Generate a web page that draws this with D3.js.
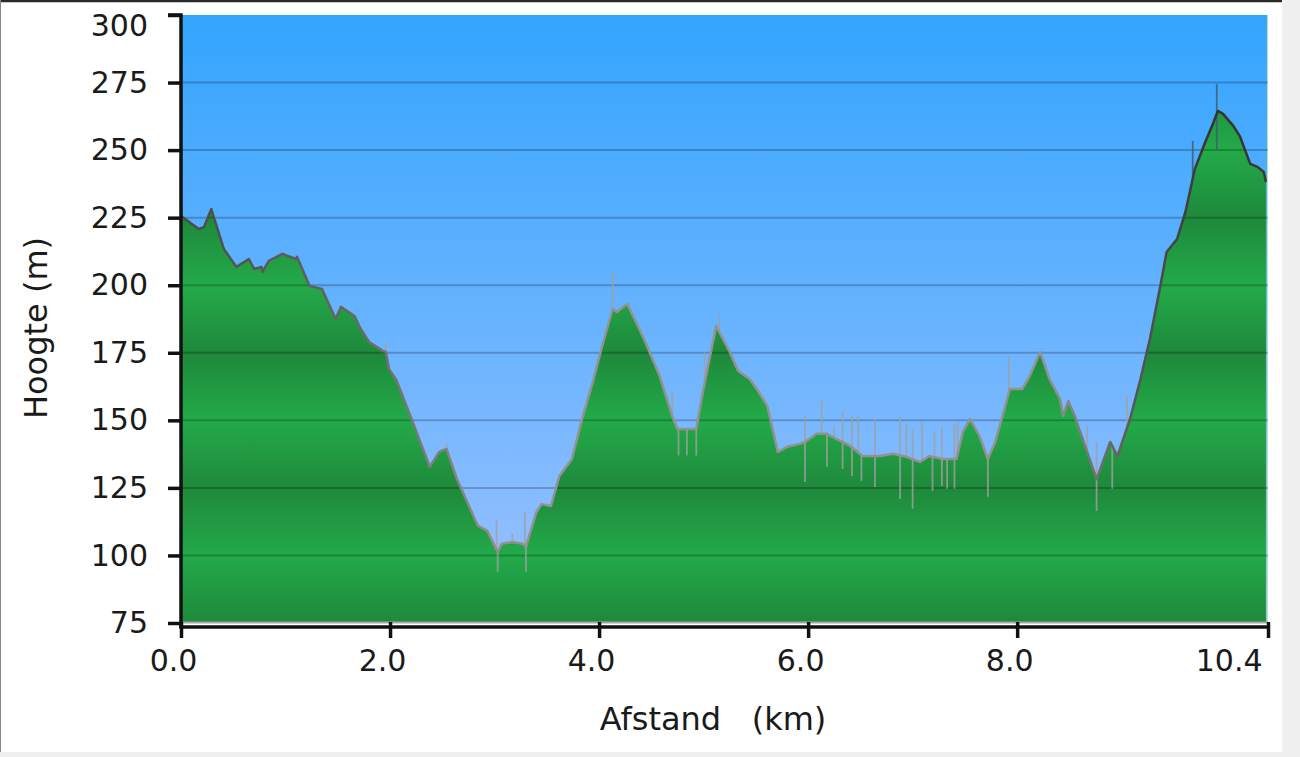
<!DOCTYPE html>
<html>
<head>
<meta charset="utf-8">
<script src="https://cdn.jsdelivr.net/npm/d3@7"></script>
<style>
  html, body { margin: 0; padding: 0; background: #f0f0f0; }
  svg { display: block; }
</style>
</head>
<body>
<svg id="chart" width="1300" height="757"></svg>
<script>
// ---- Data ----
const distKm = [0.00,0.01,0.17,0.22,0.29,0.41,0.53,0.65,0.70,0.77,0.78,0.84,0.97,1.10,1.11,1.23,1.35,1.37,1.48,1.53,1.66,1.72,1.80,1.93,1.96,1.99,2.06,2.18,2.38,2.47,2.54,2.64,2.84,2.93,3.03,3.07,3.17,3.27,3.30,3.40,3.45,3.54,3.62,3.74,3.83,3.94,4.03,4.13,4.17,4.27,4.43,4.58,4.70,4.75,4.89,4.93,4.98,5.12,5.25,5.33,5.44,5.51,5.61,5.71,5.80,5.92,5.97,6.08,6.18,6.27,6.40,6.52,6.69,6.81,6.94,7.07,7.16,7.29,7.42,7.48,7.55,7.64,7.72,7.79,7.86,7.93,8.05,8.12,8.22,8.31,8.41,8.44,8.49,8.55,8.67,8.76,8.89,8.96,9.08,9.18,9.27,9.37,9.43,9.53,9.61,9.70,9.80,9.88,9.92,9.97,10.07,10.13,10.23,10.30,10.36,10.38];
const elevM  = [226,225.3,220.8,221.5,228.2,213.4,206.8,209.7,206,206.8,204.9,209,211.6,209.7,210.5,199.7,198.6,196.8,187.5,192,188.6,183.8,179,175.7,175.3,169,165,153.1,132.8,138.3,139.4,128.3,111,109.1,101.3,104.3,105,104.3,103.2,116,119,118.3,129.4,135.7,149.4,164.2,177.5,191.2,190.1,193.1,180.1,166.4,151.6,146.8,146.8,146.8,157.9,184.9,175.3,168.3,165.3,161.6,155.3,138.3,140.2,141.3,142,145,145,143.1,140.6,136.8,136.8,137.6,136.5,134.6,136.8,135.7,135.7,145.7,150.5,144.2,135.7,142,151.6,161.6,161.6,166.4,175.3,165.3,157.9,151.6,157.2,151.6,138.3,128.3,142,136.8,150.5,165.3,180.1,199.7,212.3,217.1,227.1,243,253,260.4,264.5,263.4,258.9,255.2,244.9,243.8,241.9,238.2];

// measurement noise spikes (distance, spike tip elevation)
const spikeKm = [0.00,1.96,2.54,3.03,3.02,3.17,3.30,3.29,4.13,4.70,4.76,4.84,4.93,5.01,5.15,5.97,5.97,6.13,6.18,6.25,6.33,6.33,6.42,6.42,6.48,6.51,6.64,6.64,6.88,6.88,6.94,7.00,7.00,7.09,7.19,7.21,7.28,7.28,7.33,7.40,7.40,7.43,7.72,7.92,8.67,8.76,8.76,8.91,9.05,9.68,9.91,9.91];
const spikeM  = [233,179,141,94,113,108,94,116,205,161,137,137,137,175,189,151.6,127.2,157.2,132.8,148,153.5,132,151.6,129.4,151.6,127.6,150.5,125.3,151.2,120.9,148.7,117.3,146.8,149.4,123.9,145.7,147.6,125.7,124.7,148.7,124.7,149.4,121.7,173.9,148,116.5,142,124.7,159,253.4,274.5,250.4];

const yTicks = [75,100,125,150,175,200,225,250,275,300];
const gridValues = [100,125,150,175,200,225,250,275];
const xTicks = [0,2,4,6,8,10.4];
const xTickLabels = ["0.0","2.0","4.0","6.0","8.0","10.4"];
const xTitle = "Afstand\u00a0\u00a0\u00a0(km)";
const yTitle = "Hoogte (m)";

(function draw() {
const svg = d3.select("#chart");
const pL = 181, pR = 1268, pT = 15, pB = 623;
const x = d3.scaleLinear().domain([0, 10.4]).range([pL, pR]);
const y = d3.scaleLinear().domain([75, 300]).range([pB, pT]);
const font = "'DejaVu Sans', Verdana, sans-serif";

// frame
svg.append("rect").attr("x", 0).attr("y", 0).attr("width", 1282).attr("height", 752).attr("fill", "#ffffff");
svg.append("line").attr("x1", 0).attr("x2", 1282).attr("y1", 1).attr("y2", 1).attr("stroke", "#2a2a2a").attr("stroke-width", 2.5);
svg.append("line").attr("x1", 0.5).attr("x2", 0.5).attr("y1", 0).attr("y2", 752).attr("stroke", "#888").attr("stroke-width", 1);

const defs = svg.append("defs");
const sky = defs.append("linearGradient").attr("id", "sky")
  .attr("gradientUnits", "userSpaceOnUse").attr("x1", 0).attr("x2", 0).attr("y1", y(300)).attr("y2", y(75));
sky.append("stop").attr("offset", 0).attr("stop-color", "#33a5fe");
sky.append("stop").attr("offset", 1).attr("stop-color", "#9cc1ff");

const grass = defs.append("linearGradient").attr("id", "grass")
  .attr("gradientUnits", "userSpaceOnUse").attr("spreadMethod", "reflect")
  .attr("x1", 0).attr("x2", 0).attr("y1", y(125)).attr("y2", y(100));
grass.append("stop").attr("offset", 0).attr("stop-color", "#1e893b");
grass.append("stop").attr("offset", 1).attr("stop-color", "#23aa49");

const lineGrad = defs.append("linearGradient").attr("id", "lineGrad")
  .attr("gradientUnits", "userSpaceOnUse").attr("x1", pL).attr("x2", pR).attr("y1", 0).attr("y2", 0);
[[0, "#4a4a4a"], [0.15, "#666"], [0.3, "#929292"], [0.8, "#929292"], [0.88, "#555"], [0.95, "#333"], [1, "#3a3a3a"]]
  .forEach(([o, c]) => lineGrad.append("stop").attr("offset", o).attr("stop-color", c));

// sky
svg.append("rect").attr("x", pL).attr("y", pT).attr("width", pR - pL).attr("height", pB - pT).attr("fill", "url(#sky)");
svg.append("line").attr("x1", pR - 0.5).attr("x2", pR - 0.5).attr("y1", pT).attr("y2", pB)
  .attr("stroke", "#b6eab0").attr("stroke-width", 1);

const profile = distKm.map((d, i) => [d, elevM[i]]);
const area = d3.area().x(d => x(d[0])).y0(y(75)).y1(d => y(d[1]));
const line = d3.line().x(d => x(d[0])).y(d => y(d[1]));

svg.append("path").datum(profile).attr("d", area).attr("fill", "url(#grass)");

// grid
svg.append("g").selectAll("line").data(gridValues).join("line")
  .attr("x1", pL).attr("x2", pR).attr("y1", d => y(d)).attr("y2", d => y(d))
  .attr("stroke", "rgba(0,0,0,0.22)").attr("stroke-width", 2);

// spikes
const interp = (k) => {
  const i = Math.max(1, d3.bisector(d => d).left(distKm, k));
  const j = Math.min(i, distKm.length - 1);
  const x0 = distKm[j - 1], x1 = distKm[j];
  const t = x1 === x0 ? 0 : (k - x0) / (x1 - x0);
  return elevM[j - 1] + Math.max(0, Math.min(1, t)) * (elevM[j] - elevM[j - 1]);
};
svg.append("g").selectAll("line").data(spikeKm.map((k, i) => [k, spikeM[i]])).join("line")
  .attr("x1", d => x(d[0])).attr("x2", d => x(d[0]))
  .attr("y1", d => y(interp(d[0]))).attr("y2", d => y(d[1]))
  .attr("stroke", d => d[0] > 9.5 ? "#3d5a70" : "#a0a0a0").attr("stroke-opacity", 0.8).attr("stroke-width", 1.8);

svg.append("path").datum(profile).attr("d", line).attr("fill", "none")
  .attr("stroke", "url(#lineGrad)").attr("stroke-width", 2.5).attr("stroke-linejoin", "round");

// baseline gray
svg.append("line").attr("x1", pL).attr("x2", pR).attr("y1", pB - 0.5).attr("y2", pB - 0.5)
  .attr("stroke", "#a8a8a8").attr("stroke-width", 2);

// axes
const yAxis = d3.axisLeft(y).tickValues(yTicks).tickSize(13).tickPadding(20).tickFormat(d3.format("d"));
const gy = svg.append("g").attr("transform", `translate(${pL},0)`).call(yAxis);
const xAxis = d3.axisBottom(x).tickValues(xTicks).tickSize(11).tickPadding(12).tickFormat((d, i) => xTickLabels[i]);
const gx = svg.append("g").attr("transform", `translate(0,${pB + 4})`).call(xAxis);

[gy, gx].forEach(g => {
  g.select(".domain").attr("stroke", "#111").attr("stroke-width", 3.5);
  g.selectAll(".tick line").attr("stroke", "#111").attr("stroke-width", 3.5);
  g.selectAll(".tick text").attr("fill", "#1a1a1a").style("font-family", font).style("font-size", "30px");
});
gy.select(".domain").attr("d", `M-13,${pT}H0V${pB + 5}`);
gx.select(".domain").attr("d", `M${pL},-5V0H${pR}`);
gx.selectAll(".tick line").attr("y1", -5);
// top label sits inside the frame, last x label right-aligned
gy.selectAll(".tick text").filter(d => d === 300).attr("dy", "0.32em").attr("y", 11);
gx.selectAll(".tick text").attr("dx", -8);
gx.selectAll(".tick text").filter(d => d === 10.4).attr("text-anchor", "end").attr("dx", -6);

// titles
svg.append("text").attr("x", 713).attr("y", 730).attr("text-anchor", "middle")
  .style("font-family", font).style("font-size", "32px").attr("fill", "#1a1a1a").text(xTitle);
svg.append("text").attr("transform", "translate(47,328) rotate(-90)").attr("text-anchor", "middle")
  .style("font-family", font).style("font-size", "32px").attr("fill", "#1a1a1a").text(yTitle);
})();
</script>
</body>
</html>
